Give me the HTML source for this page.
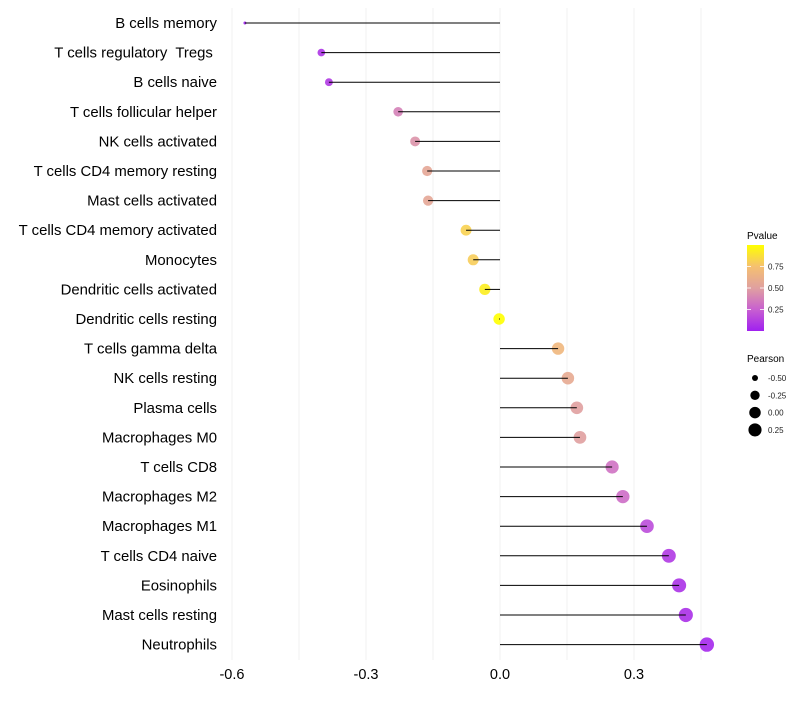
<!DOCTYPE html>
<html><head><meta charset="utf-8"><style>
body{margin:0;background:#fff;font-family:"Liberation Sans",sans-serif;}
text{white-space:pre;}
</style></head><body>
<svg id="chart" width="800" height="700" xmlns="http://www.w3.org/2000/svg" font-family="Liberation Sans, sans-serif">
<defs><linearGradient id="pg" x1="0" y1="1" x2="0" y2="0">
<stop offset="0" stop-color="#a020f0"/><stop offset="0.25" stop-color="#c860d0"/><stop offset="0.5" stop-color="#e0a0a0"/><stop offset="0.75" stop-color="#f5c070"/><stop offset="1" stop-color="#ffff00"/></linearGradient></defs>
<g id="grid"></g>
<g id="points"></g>
<g id="marks"></g>
<g id="ylabels"></g>
<g id="xlabels"></g>
<g>
<text x="747" y="239" font-size="10">Pvalue</text>
<rect x="747" y="245" width="17" height="86" fill="url(#pg)"/>
<g id="cbticks"></g>
</g>
<g id="sizeleg">
<text x="747" y="362" font-size="10">Pearson</text>
</g>
</svg>
<script>
const categories=["B cells memory","T cells regulatory  Tregs ","B cells naive","T cells follicular helper","NK cells activated","T cells CD4 memory resting","Mast cells activated","T cells CD4 memory activated","Monocytes","Dendritic cells activated","Dendritic cells resting","T cells gamma delta","NK cells resting","Plasma cells","Macrophages M0","T cells CD8","Macrophages M2","Macrophages M1","T cells CD4 naive","Eosinophils","Mast cells resting","Neutrophils"];
const pearson=[-0.571,-0.40,-0.383,-0.228,-0.19,-0.163,-0.161,-0.076,-0.060,-0.034,-0.002,0.130,0.152,0.172,0.179,0.251,0.275,0.329,0.378,0.401,0.416,0.463];
const pvalue=[0.0,0.08,0.1,0.38,0.45,0.55,0.55,0.82,0.8,0.93,1.0,0.68,0.58,0.5,0.5,0.32,0.3,0.17,0.1,0.07,0.06,0.03];
const xTicks=[-0.6,-0.3,0.0,0.3];
const xTickLabels=["-0.6","-0.3","0.0","0.3"];
const cbTicks=[0.25,0.5,0.75];
const cbTickLabels=["0.25","0.50","0.75"];
const sizeLegVals=[-0.5,-0.25,0,0.25];
const sizeLegLabels=["-0.50","-0.25","0.00","0.25"];
const NS="http://www.w3.org/2000/svg";
const xs=v=>500+v*446.7;
const ys=i=>23+i*29.6;
const pmin=Math.min(...pearson),pmax=Math.max(...pearson);
const rs=v=>1.5+5.7*Math.sqrt(Math.max(0,(v-pmin)/(pmax-pmin)));
const stops=[[0,[160,32,240]],[0.25,[200,96,208]],[0.5,[224,160,160]],[0.75,[245,192,112]],[1,[255,255,0]]];
function col(p){for(let k=1;k<stops.length;k++){if(p<=stops[k][0]){const a=stops[k-1],b=stops[k];const t=(p-a[0])/(b[0]-a[0]);const c=a[1].map((x,j)=>Math.round(x+(b[1][j]-x)*t));return `rgb(${c})`;}}return "rgb(255,255,0)";}
function mk(tag,at,parent){const e=document.createElementNS(NS,tag);for(const k in at)e.setAttribute(k,at[k]);parent.appendChild(e);return e;}
const grid=document.getElementById('grid'),marks=document.getElementById('marks'),pts=document.getElementById('points'),yl=document.getElementById('ylabels'),xl=document.getElementById('xlabels');
for(let k=0;k<8;k++){const v=-0.6+k*0.15;const g=mk('line',{x1:xs(v),x2:xs(v),y1:8,y2:660,stroke:'#f0f0f0','stroke-width':1},grid);
}
xTicks.forEach((v,i)=>{const t=mk('text',{x:xs(v),y:679,'font-size':14.5,'text-anchor':'middle',fill:'#000'},xl);t.textContent=xTickLabels[i];
});
categories.forEach((c,i)=>{const y=ys(i);
const t=mk('text',{x:217,y:y+5,'font-size':14.9,'text-anchor':'end',fill:'#000'},yl);t.textContent=c;

const p=mk('circle',{cx:xs(pearson[i]),cy:y,r:rs(pearson[i]),fill:col(pvalue[i]),'fill-opacity':0.9},pts);

const l=mk('line',{x1:xs(0),x2:xs(pearson[i]),y1:y,y2:y,stroke:'#000','stroke-width':1},marks);
});
const cb=document.getElementById('cbticks');
cbTicks.forEach((v,i)=>{const y=331-v*86;
mk('line',{x1:747,x2:751,y1:y,y2:y,stroke:'#fff','stroke-width':0.8},cb);mk('line',{x1:760,x2:764,y1:y,y2:y,stroke:'#fff','stroke-width':0.8},cb);
const t=mk('text',{x:768,y:y+3,'font-size':8,fill:'#222'},cb);t.textContent=cbTickLabels[i];
});
const sl=document.getElementById('sizeleg');
sizeLegVals.forEach((v,i)=>{const y=378+i*17.3;
const c=mk('circle',{cx:755,cy:y,r:rs(v),fill:'#000'},sl);

const t=mk('text',{x:768,y:y+3,'font-size':8,fill:'#222'},sl);t.textContent=sizeLegLabels[i];
});
</script>
</body></html>
